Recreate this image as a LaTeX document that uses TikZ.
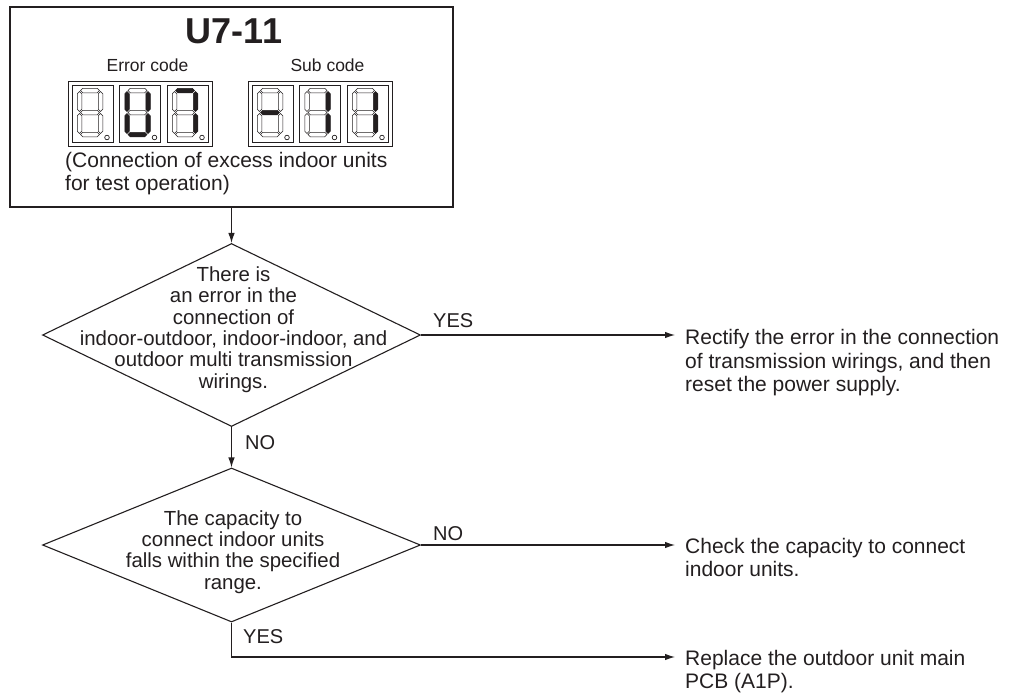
\documentclass[tikz,border=0pt]{standalone}
\usepackage{fontspec}
\setmainfont{Liberation Sans}
\usetikzlibrary{arrows.meta,shapes.geometric}
\definecolor{ink}{RGB}{35,31,32}
\newcommand{\lcdcell}[8]{%
  \draw[cellline] (#1,85) rectangle ++(41,57);
  \begin{scope}[shift={(#1+7.5,90.5)}]
    \path[#2] (1,0) -- ++(2.25,-2.25) -- ++(14.5,0) -- ++(2.25,2.25) -- ++(-2.25,2.25) -- ++(-14.5,0) -- cycle;
    \path[#3] (21,1) -- ++(2.25,2.25) -- ++(0,15.5) -- ++(-2.25,2.25) -- ++(-2.25,-2.25) -- ++(0,-15.5) -- cycle;
    \path[#4] (21,23) -- ++(2.25,2.25) -- ++(0,15.5) -- ++(-2.25,2.25) -- ++(-2.25,-2.25) -- ++(0,-15.5) -- cycle;
    \path[#5] (1,44) -- ++(2.25,-2.25) -- ++(14.5,0) -- ++(2.25,2.25) -- ++(-2.25,2.25) -- ++(-14.5,0) -- cycle;
    \path[#6] (0,23) -- ++(2.25,2.25) -- ++(0,15.5) -- ++(-2.25,2.25) -- ++(-2.25,-2.25) -- ++(0,-15.5) -- cycle;
    \path[#7] (0,1) -- ++(2.25,2.25) -- ++(0,15.5) -- ++(-2.25,2.25) -- ++(-2.25,-2.25) -- ++(0,-15.5) -- cycle;
    \path[#8] (1,22) -- ++(2.25,-2.25) -- ++(14.5,0) -- ++(2.25,2.25) -- ++(-2.25,2.25) -- ++(-14.5,0) -- cycle;
  \end{scope}
  \draw[cellline] (#1+35,137.5) circle[radius=2.3pt];
}
\begin{document}
\begin{tikzpicture}[x=1pt,y=-1pt,
  cellline/.style={draw=ink,line width=0.7pt},
  on/.style={fill=ink,draw=ink,line width=0.5pt},
  off/.style={fill=white,draw=ink,line width=0.5pt},
  line/.style={draw=ink,line width=1.1pt},
  arr/.style={line,-{Latex[length=10pt,width=6.5pt]}},
  dia/.style={shape=diamond,draw=ink,line width=1.1pt,inner sep=0pt},
  dtext/.style={font=\fontsize{20.4}{21.4}\selectfont,text=ink,inner sep=0pt,align=center},
  btext/.style={font=\fontsize{21}{23}\selectfont,text=ink,inner sep=0pt,align=left,anchor=west},
  rtext/.style={font=\fontsize{21}{23.5}\selectfont,text=ink,inner sep=0pt,align=left,anchor=west},
  lbl/.style={font=\fontsize{20}{22}\selectfont,text=ink,inner sep=0pt,anchor=west},
  small/.style={font=\fontsize{17.5}{20}\selectfont,text=ink,inner sep=0pt}]
\useasboundingbox (0,0) rectangle (1018,699);
\fill[white] (0,0) rectangle (1018,699);

% header box
\node[draw=ink,line width=1.2pt,minimum width=443pt,minimum height=200pt,inner sep=0pt] (box) at (231.5,107) {};
\node[font=\fontsize{36}{40}\selectfont\bfseries,text=ink,inner sep=0pt] (title) at (234,31) {U7-11};
\node[small] (ecode) at (147.5,65) {Error code};
\node[small] (scode) at (327.5,65) {Sub code};
\draw[line width=1pt,draw=ink] (68,81) rectangle (212,146);
\draw[line width=1pt,draw=ink] (248,81) rectangle (392,146);
\lcdcell{72}{off}{off}{off}{off}{off}{off}{off}
\lcdcell{119.5}{off}{on}{on}{on}{on}{on}{off}
\lcdcell{167}{on}{on}{on}{off}{off}{off}{off}
\lcdcell{252}{off}{off}{off}{off}{off}{off}{on}
\lcdcell{299.5}{off}{on}{on}{off}{off}{off}{off}
\lcdcell{347}{off}{on}{on}{off}{off}{off}{off}
\node[btext] (note) at (65,173.5) {(Connection of excess indoor units\\for test operation)};

% decisions
\node[dia,minimum width=378pt,minimum height=183pt] (d1) at (231.5,335) {};
\node[dtext] (q1) at (233.5,329.6) {There is\\an error in the\\connection of\\indoor-outdoor, indoor-indoor, and\\outdoor multi transmission\\wirings.};
\node[dia,minimum width=378pt,minimum height=154pt] (d2) at (231.5,545) {};
\node[dtext] (q2) at (233,552) {The capacity to\\connect indoor units\\falls within the specified\\range.};

% results
\coordinate (t1) at (675,335);
\coordinate (t2) at (675,545);
\coordinate (t3) at (675,657);
\node[rtext] (r1) at (685,363) {Rectify the error in the connection\\of transmission wirings, and then\\reset the power supply.};
\node[rtext] (r2) at (685,557.7) {Check the capacity to connect\\indoor units.};
\node[rtext] (r3) at (685,671.5) {Replace the outdoor unit main\\PCB (A1P).};

% connectors
\draw[arr] (box.south) -- (d1.north);
\draw[arr] (d1.south) -- (d2.north);
\draw[arr] (d1.east) -- (t1);
\draw[arr] (d2.east) -- (t2);
\draw[arr] (d2.south) |- (t3);

% labels
\node[lbl] (yes1) at (433,320.5) {YES};
\node[lbl] (no1) at (245,443) {NO};
\node[lbl] (no2) at (433,533.5) {NO};
\node[lbl] (yes2) at (243,636.5) {YES};
\end{tikzpicture}
\end{document}
